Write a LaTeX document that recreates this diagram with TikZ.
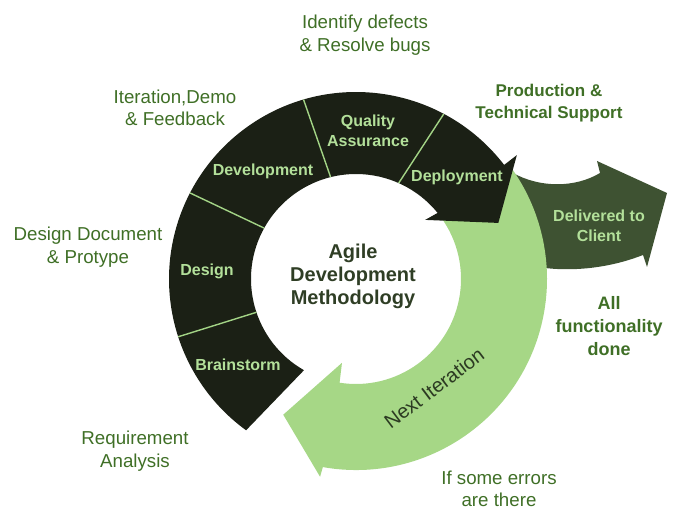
\documentclass[tikz,border=0pt]{standalone}
\usepackage{fontspec}
\setmainfont{Liberation Sans}
\definecolor{darkring}{HTML}{1B2015}
\definecolor{ringline}{HTML}{A3D486}
\definecolor{greenring}{HTML}{A6D786}
\definecolor{delivered}{HTML}{3E5232}
\definecolor{segtext}{HTML}{B3E09A}
\definecolor{labeltext}{HTML}{3F6F26}
\definecolor{centertext}{HTML}{2F3E25}
\definecolor{nexttext}{HTML}{2C3A22}
\begin{document}
\begin{tikzpicture}[x=1pt,y=1pt,
  outlabel/.style={align=center,inner sep=0pt,text=labeltext,font=\fontsize{18.7}{22.5}\selectfont},
  outbold/.style={align=center,inner sep=0pt,text=labeltext,font=\fontsize{17}{22.5}\selectfont\bfseries},
  seglabel/.style={align=center,inner sep=0pt,text=segtext,font=\fontsize{16}{20}\selectfont\bfseries},
  centerlabel/.style={align=center,inner sep=0pt,text=centertext,font=\fontsize{20}{23}\selectfont\bfseries},
  divider/.style={draw=ringline,line width=1.4pt}]
\useasboundingbox (0,0) rectangle (688,-526);
\coordinate (C) at (356,-279);
% Delivered to client arrow (bottom layer)
\fill[delivered] (500,-180) -- (513,-173) .. controls (540,-188) and (575,-188) .. (600,-173)
  -- (597,-161) -- (667,-193) -- (647,-267) -- (643,-255)
  .. controls (615,-266) and (580,-272) .. (545,-268) -- (510,-262) -- cycle;
\begin{scope}[shift={(C)}]
% Next iteration ring
\fill[greenring] (36:105) arc[start angle=36, end angle=-99, radius=105]
  -- (-99.5:85) -- (-118.2:154) -- (-100.3:201) -- (-100:191)
  arc[start angle=-100, end angle=36, radius=191] -- cycle;
% Dark ring
\fill[darkring] (240.3:105) arc[start angle=240.3, end angle=39, radius=105]
  -- (40.5:91) -- (21.5:153) -- (37.6:203) -- (37.6:187)
  arc[start angle=37.6, end angle=234, radius=187] -- cycle;
% Dividers
\path[divider] (198.5:105) -- (198:187);
\path[divider] (151:105) -- (152.6:187);
\path[divider] (104:105) -- (106.3:187);
\path[divider] (66:105) -- (62:187);
\end{scope}
% Segment labels
\node[seglabel] (brain) at (238,-365) {Brainstorm};
\node[seglabel] (design) at (207,-271) {Design};
\node[seglabel] (dev) at (263,-171) {Development};
\node[seglabel] (qa) at (368,-131) {Quality\\Assurance};
\node[seglabel] (deploy) at (457,-177) {Deployment};
\node[seglabel] (deliv) at (599,-226) {Delivered to\\Client};
% Centre
\node[centerlabel] (centre) at (353,-276) {Agile\\Development\\Methodology};
% Next iteration
\node[inner sep=0pt,text=nexttext,font=\fontsize{20}{24}\selectfont,rotate=37] (next) at (434,-388) {Next Iteration};
% Outside labels
\node[outlabel] (identify) at (365,-35) {Identify defects\\\& Resolve bugs};
\node[outlabel] (iter) at (175,-108) {Iteration,Demo\\\& Feedback};
\node[outbold] (prod) at (549,-103) {Production \&\\Technical Support};
\node[outlabel] (docu) at (88,-247) {Design Document\\\& Protype};
\node[outlabel] (req) at (135,-451) {Requirement\\Analysis};
\node[outbold,font=\fontsize{18}{23}\selectfont\bfseries] (allf) at (609,-326) {All\\functionality\\done};
\node[outlabel] (errors) at (499,-489) {If some errors\\are there};
\end{tikzpicture}
\end{document}
